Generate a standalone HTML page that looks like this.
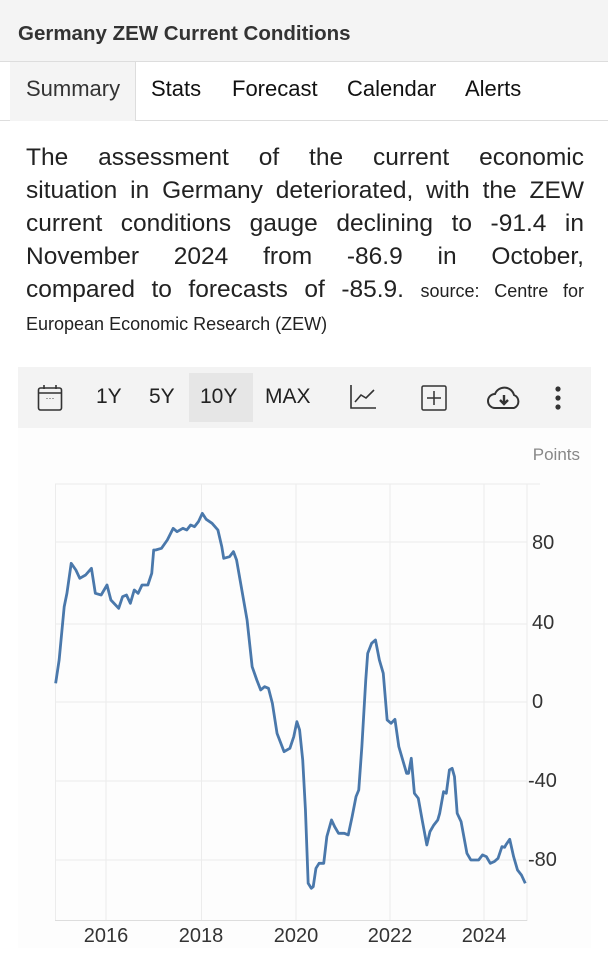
<!DOCTYPE html>
<html><head><meta charset="utf-8"><style>
*{margin:0;padding:0;box-sizing:border-box}
body{width:608px;height:960px;background:#fff;font-family:"Liberation Sans",Arial,sans-serif;position:relative;overflow:hidden;color:#222}
.hdr{position:absolute;left:0;top:0;width:608px;height:62px;background:#f4f4f4;border-bottom:1px solid #ddd}
.hdr span{position:absolute;left:18px;top:22px;font-size:20.5px;font-weight:bold;color:#333}
.tabs{position:absolute;left:0;top:62px;width:608px;height:59px;border-bottom:1px solid #ddd}
.tab{position:absolute;top:14px;font-size:22px;color:#111}
.sum{position:absolute;left:10px;top:0;width:126px;height:59px;background:#f4f4f4;border-right:1px solid #ddd}
.p{position:absolute;left:26px;top:141px;width:558px;font-size:24.5px;color:#222}
.p div{height:33px;line-height:33px;text-align:justify;text-align-last:justify;white-space:nowrap}
.p div.l{text-align-last:left}
.p small{font-size:18px}
.tb{position:absolute;left:18px;top:367px;width:573px;height:61px;background:#f3f3f3}
.tb span{position:absolute;top:18px;font-size:21px;color:#222}
.cc{position:absolute;left:18px;top:428px;width:573px;height:520px;background:#fdfdfd}
</style></head><body>
<div class="hdr"><span>Germany ZEW Current Conditions</span></div>
<div class="tabs"><div class="sum"></div>
<span class="tab" style="left:26px;color:#333">Summary</span>
<span class="tab" style="left:151px">Stats</span>
<span class="tab" style="left:232px">Forecast</span>
<span class="tab" style="left:347px">Calendar</span>
<span class="tab" style="left:465px">Alerts</span></div>
<div class="p">
<div style="white-space:normal">The assessment of the current economic</div>
<div style="white-space:normal">situation in Germany deteriorated, with the ZEW</div>
<div style="white-space:normal">current conditions gauge declining to -91.4 in</div>
<div style="white-space:normal">November 2024 from -86.9 in October,</div>
<div style="white-space:normal">compared to forecasts of -85.9. <small>source: Centre for</small></div>
<div class="l"><small>European Economic Research (ZEW)</small></div>
</div>
<div class="tb">
<div style="position:absolute;left:171px;top:6px;width:64px;height:49px;background:#e6e6e6"></div>
<svg style="position:absolute;left:19px;top:17px" width="26" height="28" viewBox="0 0 26 28"><rect x="1.5" y="4" width="23" height="22" rx="2" fill="none" stroke="#333" stroke-width="1.6"/><line x1="1.5" y1="9" x2="24.5" y2="9" stroke="#333" stroke-width="1.6"/><line x1="7" y1="1" x2="7" y2="5" stroke="#333" stroke-width="1.6"/><line x1="19" y1="1" x2="19" y2="5" stroke="#333" stroke-width="1.6"/><text x="13" y="17" font-size="9" text-anchor="middle" fill="#333">···</text></svg>
<span style="left:78px">1Y</span><span style="left:131px">5Y</span><span style="left:182px">10Y</span><span style="left:247px">MAX</span>
<svg style="position:absolute;left:331px;top:17px" width="28" height="26"><path d="M2 1V24H27" fill="none" stroke="#333" stroke-width="1.6"/><path d="M6 18L12 11L17 14L25 6" fill="none" stroke="#333" stroke-width="1.6"/></svg>
<svg style="position:absolute;left:403px;top:17px" width="26" height="28"><rect x="1" y="2" width="24" height="24" rx="1.5" fill="none" stroke="#333" stroke-width="1.5"/><path d="M13 7V21M6 14H20" stroke="#333" stroke-width="1.5"/></svg>
<svg style="position:absolute;left:468px;top:18px" width="36" height="26"><path d="M9 23H28A7 7 0 0 0 28 10A10 10 0 0 0 9 9A7 7 0 0 0 9 23Z" fill="none" stroke="#333" stroke-width="2"/><path d="M18 10V18M14 15L18 19L22 15" stroke="#333" stroke-width="2.4" fill="none"/></svg>
<svg style="position:absolute;left:536px;top:18px" width="8" height="26"><circle cx="4" cy="4" r="2.6" fill="#333"/><circle cx="4" cy="13" r="2.6" fill="#333"/><circle cx="4" cy="22" r="2.6" fill="#333"/></svg>
</div>
<div class="cc"></div>
<svg style="position:absolute;left:0;top:0" width="608" height="960">
<g stroke="#ececec" stroke-width="1">
<line x1="55.5" y1="484" x2="55.5" y2="921"/><line x1="106" y1="484" x2="106" y2="920"/><line x1="201.5" y1="484" x2="201.5" y2="920"/><line x1="296" y1="484" x2="296" y2="920"/><line x1="390" y1="484" x2="390" y2="920"/><line x1="484" y1="484" x2="484" y2="920"/><line x1="527" y1="484" x2="527" y2="921"/>
<line x1="55" y1="484" x2="540" y2="484"/><line x1="55" y1="542" x2="527" y2="542"/><line x1="55" y1="624" x2="527" y2="624"/><line x1="55" y1="702" x2="527" y2="702"/><line x1="55" y1="781" x2="527" y2="781"/><line x1="55" y1="860" x2="527" y2="860"/><line x1="55" y1="920.5" x2="527" y2="920.5" stroke="#ddd"/>
</g>
<g font-size="20" fill="#333">
<text x="532" y="549">80</text><text x="532" y="629">40</text><text x="532" y="708">0</text><text x="528" y="787">-40</text><text x="528" y="866">-80</text>
<text x="106" y="942" text-anchor="middle">2016</text><text x="201" y="942" text-anchor="middle">2018</text><text x="296" y="942" text-anchor="middle">2020</text><text x="390" y="942" text-anchor="middle">2022</text><text x="484" y="942" text-anchor="middle">2024</text>
<text x="580" y="460" text-anchor="end" fill="#888" font-size="17">Points</text>
</g>
<g transform="translate(0,560) scale(0.3891,0.3333)">
<path vector-effect="non-scaling-stroke" fill="none" stroke="#4a78ab" stroke-width="2.8" stroke-linejoin="round" d="M143,370 L152,300 165,140 172,100 183,10 195,30 205,55 220,45 235,25 245,100 260,105 275,75 285,120 305,145 315,110 325,105 335,130 345,90 355,100 365,75 380,75 390,40 395,-30 400,-30 415,-35 430,-60 445,-95 455,-85 470,-95 480,-90 490,-105 500,-100 510,-115 520,-140 530,-122 545,-110 560,-90 570,-40 575,-5 590,-10 600,-25 608,0 620,80 635,180 648,320 660,360 670,390 680,380 690,385 700,430 712,520 730,575 745,565 755,530 763,485 770,510 778,600 785,750 792,970 800,985 805,980 812,925 820,910 832,910 840,830 852,780 860,800 870,820 885,820 895,825 905,770 915,710 922,690 930,560 940,360 945,280 955,250 965,240 975,300 985,340 995,480 1005,490 1015,478 1025,560 1035,600 1045,640 1050,640 1057,595 1065,700 1075,715 1085,780 1097,855 1105,815 1115,795 1125,780 1130,760 1140,695 1147,700 1155,630 1162,625 1168,650 1175,760 1185,785 1200,880 1210,900 1230,900 1240,885 1250,890 1260,910 1270,905 1280,895 1290,860 1297,862 1300,855 1310,838 1320,890 1330,930 1340,945 1350,970"/>
</g>
</svg>
</body></html>
